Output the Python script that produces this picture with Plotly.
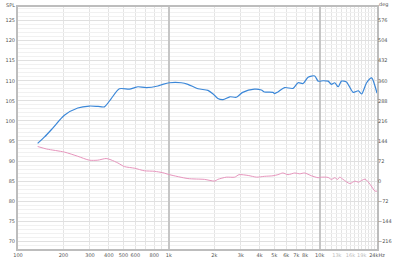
import plotly.graph_objects as go

# SPL curve (Hz, dB)
spl_freq = [135, 150, 170, 203, 249, 297, 340, 374, 414, 470, 548, 594, 624, 707, 846, 912,
            1010, 1208, 1338, 1564, 1817, 1966, 2112, 2288, 2536, 2805, 3088, 3693, 4105, 4308,
            4907, 5029, 5285, 5853, 6663, 7196, 7766, 8380, 9280, 9768, 10540, 11380, 11970,
            12600, 13260, 13950, 15060, 16700, 18040, 18970, 20490, 22110, 23270, 24000]
spl_db = [94.4, 96.0, 98.2, 101.4, 103.2, 103.7, 103.6, 103.5, 105.5, 108.0, 107.9, 108.3, 108.5,
          108.3, 108.7, 109.1, 109.5, 109.5, 109.1, 108.0, 107.6, 106.7, 105.6, 105.3, 106.0,
          105.9, 107.1, 107.9, 107.7, 107.2, 107.1, 106.8, 107.2, 108.3, 108.1, 109.5, 109.3,
          110.9, 111.2, 109.9, 110.0, 109.9, 109.1, 109.5, 108.5, 109.9, 109.7, 107.1, 107.5,
          106.7, 109.5, 110.7, 108.7, 106.9]

# Phase curve (Hz, degrees)
ph_freq = [135, 155, 203, 249, 297, 338, 384, 414, 459, 508, 594, 688, 803, 912, 1010, 1338,
           1723, 2014, 2112, 2405, 2735, 2920, 3360, 3820, 4308, 4907, 5285, 5700, 6170, 6840,
           7370, 7950, 8820, 9770, 10280, 11380, 11970, 12600, 13160, 13590, 14300, 15860,
           17150, 18040, 19990, 21610, 23270, 24000]
ph_deg = [124, 115, 104, 89, 75, 75, 81, 76, 65, 52, 46, 37, 35, 30, 23, 9, 6, 0, 6, 14, 14, 23,
          20, 14, 17, 19, 23, 29, 23, 29, 26, 29, 19, 12, 14, 13, 6, 12, 6, 14, 6, -9, 0, -4, 7,
          -12, -36, -36]

x_tickvals = [100, 200, 300, 400, 500, 600, 800, 1000, 2000, 3000, 4000, 5000, 6000, 7000,
              8000, 10000, 13000, 16000, 19000, 24000]
x_ticktext = ["100", "200", "300", "400", "500", "600", "800", "1k", "2k", "3k", "4k", "5k",
              "6k", "7k", "8k", "10k", "<span style='color:#bbbbbb'>13k</span>",
              "<span style='color:#bbbbbb'>16k</span>", "<span style='color:#bbbbbb'>19k</span>",
              "24kHz"]
x_grid = ([100 * i for i in range(1, 10)] + [1000 * i for i in range(2, 10)]
          + [1000 * i for i in range(11, 25)])
x_major_grid = [1000, 10000]

y_ticks = list(range(70, 130, 5))
y2_ticks = list(range(-216, 577, 72))

y_lo, y_hi = 68.07, 128.38
x_range = [2, 4.380211]
def to_deg(v):
    return (v - 70) * 14.4 - 216

fig = go.Figure()
fig.add_trace(go.Scatter(x=spl_freq, y=spl_db, mode="lines",
                         line=dict(color="#3b87d8", width=1.2, shape="spline", smoothing=0.7),
                         xaxis="x", yaxis="y"))
fig.add_trace(go.Scatter(x=ph_freq, y=ph_deg, mode="lines",
                         line=dict(color="#e795bd", width=1.0, shape="spline", smoothing=0.7),
                         xaxis="x", yaxis="y2"))

fig.update_layout(
    width=399, height=263,
    margin=dict(l=17, r=22, t=5, b=8),
    paper_bgcolor="white", plot_bgcolor="white",
    showlegend=False,
    font=dict(family="DejaVu Sans", size=5, color="#555555"),
    xaxis=dict(type="log", range=x_range, tickmode="array",
               tickvals=x_tickvals, ticktext=x_ticktext, showgrid=False, tickangle=0,
               ticks="", ticklen=0, tickfont=dict(size=5, color="#555555"),
               showline=True, mirror=True, linecolor="#bdbdbd", linewidth=2,
               minor=dict(tickmode="array", tickvals=x_grid, showgrid=True,
                          gridcolor="#e4e4e4", gridwidth=1.3, ticks=""),
               zeroline=False),
    xaxis2=dict(type="log", range=x_range, overlaying="x", side="top", tickmode="array",
                tickvals=x_major_grid, showticklabels=False, ticks="", showgrid=True,
                gridcolor="#c6c6c6", gridwidth=1.5, zeroline=False, showline=False),
    yaxis=dict(range=[y_lo, y_hi], tickmode="array", tickvals=y_ticks,
               showgrid=True, gridcolor="#e0e0e0", gridwidth=1,
               minor=dict(dtick=1, showgrid=True, gridcolor="#f1f1f1", gridwidth=1),
               showline=True, mirror=True, linecolor="#bdbdbd", linewidth=2,
               ticks="", tickfont=dict(size=5, color="#555555"), zeroline=False),
    yaxis2=dict(range=[to_deg(y_lo), to_deg(y_hi)], overlaying="y", side="right",
                tickmode="array", tickvals=y2_ticks, showgrid=False, ticks="",
                tickfont=dict(size=5, color="#555555"), zeroline=False),
    annotations=[
        dict(text="SPL", xref="paper", yref="paper", x=-0.02, y=1.0, xanchor="center",
             yanchor="bottom", showarrow=False, font=dict(size=5, color="#555555"), yshift=-3),
        dict(text="deg", xref="paper", yref="paper", x=1.017, y=1.0, xanchor="center",
             yanchor="bottom", showarrow=False, font=dict(size=5, color="#555555"), yshift=-3),
    ],
)
# invisible anchor trace so the top overlay axis is used
fig.add_trace(go.Scatter(x=[], y=[], xaxis="x2", yaxis="y", hoverinfo="skip"))

fig.write_html("out.html")
